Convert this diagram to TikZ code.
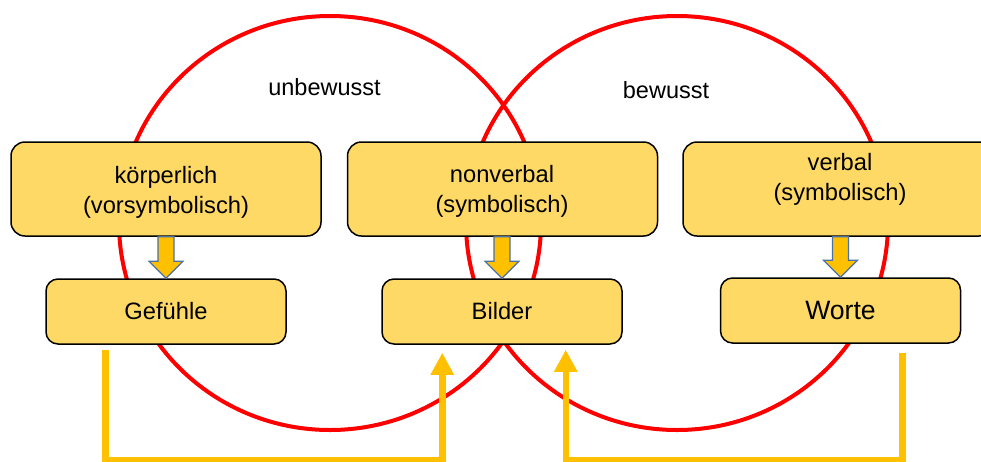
\documentclass[tikz,border=0pt]{standalone}
\usepackage{fontspec}
\setmainfont{Liberation Sans}
\usetikzlibrary{arrows.meta,calc}
\definecolor{boxfill}{HTML}{FFD966}
\definecolor{conn}{HTML}{FFC000}
\definecolor{arrowedge}{HTML}{4A72A8}
\definecolor{circred}{HTML}{FF0000}
\newcommand{\blkarr}[2]{%
  \draw[blockarr] ($(#2.north |- #1.south)+(-8,0)$) -- ($(#2.north)+(-8,-17)$)
    -- ($(#2.north)+(-17,-17)$) -- (#2.north) -- ($(#2.north)+(17,-17)$)
    -- ($(#2.north)+(8,-17)$) -- ($(#2.north |- #1.south)+(8,0)$) -- cycle;}
\begin{document}
\begin{tikzpicture}[x=1pt,y=-1pt,
  box/.style={draw=black, line width=1.5pt, fill=boxfill, align=center,
    font=\fontsize{23.7}{30}\selectfont, inner sep=0pt},
  topbox/.style={box, rounded corners=14pt, minimum width=310pt, minimum height=94pt},
  botbox/.style={box, rounded corners=12pt, minimum width=240pt, minimum height=65pt},
  boxtxt/.style={align=center, font=\fontsize{23.7}{30}\selectfont, inner sep=0pt},
  circ/.style={draw=circred, line width=4pt},
  feed/.style={draw=conn, line width=6.5pt, line join=miter,
    -{Triangle[width=22pt,length=22pt]}},
  blockarr/.style={fill=conn, draw=arrowedge, line width=1.2pt, line join=miter},
  lab/.style={font=\fontsize{23.5}{28}\selectfont, anchor=base, inner sep=0pt}]
\path[use as bounding box] (0,0) rectangle (981,461);
\clip (0,0) rectangle (981,461);
% circles
\draw[circ] (330,223) ellipse [x radius=211pt, y radius=207pt];
\draw[circ] (677,223) ellipse [x radius=211pt, y radius=207pt];
% labels
\node[lab] (unb) at (324.5,95) {unbewusst};
\node[lab] (bew) at (666,98) {bewusst};
% top boxes
\node[topbox] (kb) at (166,189) {};
\node[boxtxt] (ktxt) at (166,192) {körperlich\\(vorsymbolisch)};
\node[topbox] (nb) at (502.5,189) {};
\node[boxtxt] (ntxt) at (502,191) {nonverbal\\(symbolisch)};
\node[topbox] (vb) at (838,189) {};
\node[boxtxt] (vtxt) at (840,179) {verbal\\(symbolisch)};
% bottom boxes
\node[botbox] (gef) at (166,311.5) {Gefühle};
\node[botbox] (bil) at (502,311.5) {Bilder};
\node[botbox, font=\fontsize{26.6}{30}\selectfont] (wor) at (840.5,310.5) {Worte};
% block arrows
\blkarr{kb}{gef}
\blkarr{nb}{bil}
\blkarr{vb}{wor}
% feedback connectors
\coordinate (g1) at ($(gef.south west)+(60,5)$);
\coordinate (b1) at ($(bil.south west)+(61,8)$);
\coordinate (w1) at ($(wor.south east)+(-59,9)$);
\coordinate (b2) at ($(bil.south east)+(-57,5)$);
\draw[feed] (g1) -- ++(0,110) -| (b1);
\draw[feed] (w1) -- ++(0,107) -| (b2);
\end{tikzpicture}
\end{document}
